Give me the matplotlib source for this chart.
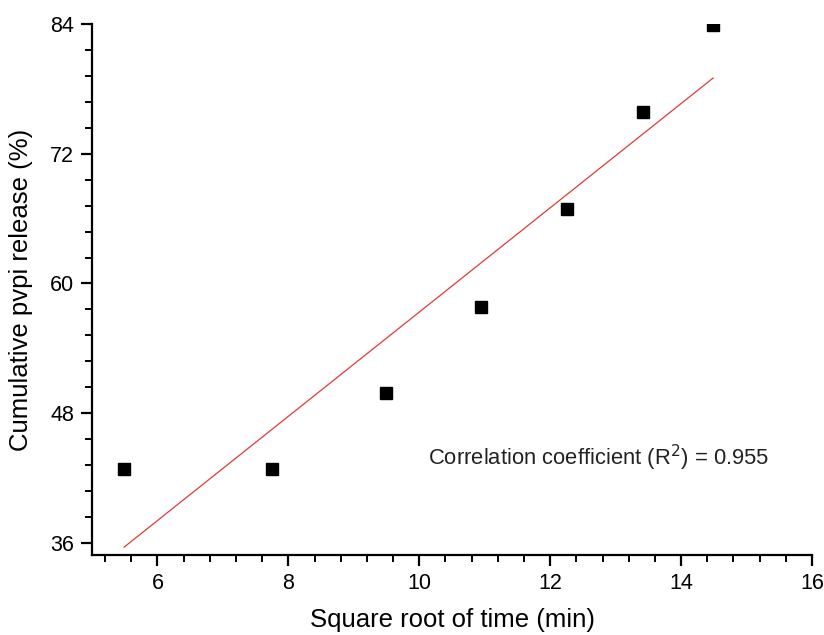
import numpy as np
import matplotlib.pyplot as plt
from matplotlib.ticker import MultipleLocator

plt.rcParams['font.family'] = ['Liberation Sans', 'DejaVu Sans']

# data
sqrt_time = [5.49, 7.75, 9.49, 10.95, 12.25, 13.42, 14.49]
release = [42.85, 42.85, 49.88, 57.83, 66.9, 75.84, 83.87]

# linear fit
slope, intercept = np.polyfit(sqrt_time, release, 1)
xfit = np.array([min(sqrt_time), max(sqrt_time)])
yfit = slope * xfit + intercept

fig = plt.figure(figsize=(8.24, 6.35), dpi=100)
ax = fig.add_axes([92/824, 80/635, (812-92)/824, (555-24)/635])

ax.plot(xfit, yfit, color='#e03a3a', lw=0.9)
ax.plot(sqrt_time, release, 's', color='black', ms=9, ls='none')

ax.set_xlim(5, 16)
ax.set_ylim(34.89, 84)
ax.set_xticks([6, 8, 10, 12, 14, 16])
ax.xaxis.set_minor_locator(MultipleLocator(0.4))
ax.set_yticks([36, 48, 60, 72, 84])
ax.yaxis.set_minor_locator(MultipleLocator(2.4))

for s in ['top', 'right']:
    ax.spines[s].set_visible(False)
for s in ['left', 'bottom']:
    ax.spines[s].set_linewidth(1.6)

ax.tick_params(which='major', direction='out', length=8, width=1.6, labelsize=15.5, pad=5)
ax.tick_params(which='minor', direction='out', length=5, width=1.4)

ax.set_xlabel('Square root of time (min)', fontsize=18.5, labelpad=10)
ax.set_ylabel('Cumulative pvpi release (%)', fontsize=18.5, labelpad=12)

ax.text(10.13, 43.9, 'Correlation coefficient (R$^2$) = 0.955', fontsize=15.8,
        va='center', ha='left', color='#222222')

fig.savefig('out.png', dpi=100)
